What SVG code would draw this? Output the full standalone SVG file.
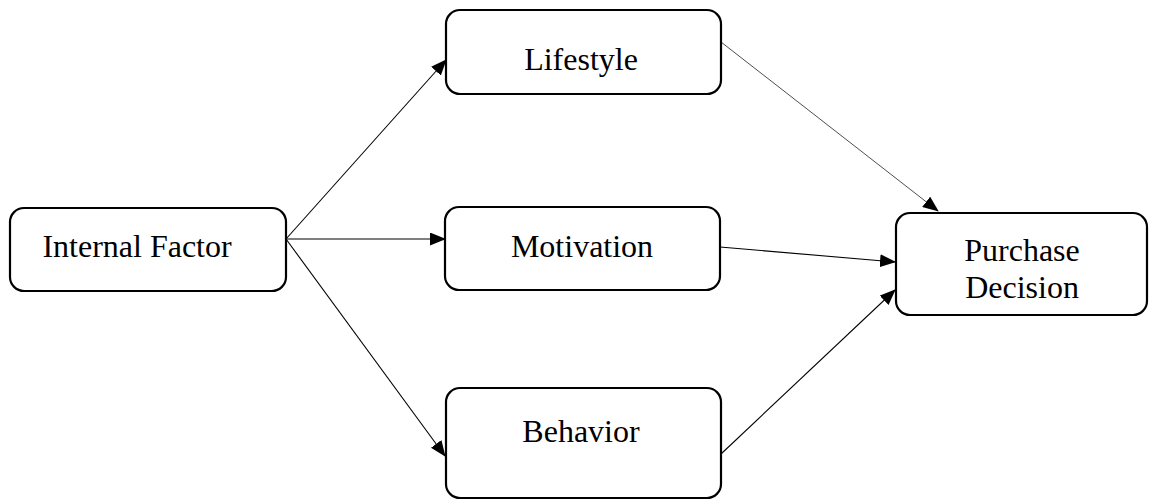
<svg xmlns="http://www.w3.org/2000/svg" width="1149" height="500" viewBox="0 0 1149 500">
<style>
.box{fill:#fff;stroke:#000;stroke-width:2.2}
.t{font-family:"Liberation Serif","Times New Roman",serif;font-size:32px;fill:#000;text-anchor:middle}
.c{stroke:#000;stroke-width:1.1;fill:none;marker-end:url(#ah)}
.thin{stroke-width:0.7}
</style>
<defs>
<marker id="ah" markerUnits="userSpaceOnUse" markerWidth="16" markerHeight="13" refX="15" refY="6.5" orient="auto">
<path d="M0,0 L16,6.5 L0,13 Z" fill="#000"/>
</marker>
</defs>
<rect width="1149" height="500" fill="#fff"/>
<g id="connectors">
<line class="c" x1="286" y1="239" x2="446" y2="60"/>
<line class="c" x1="286" y1="239" x2="445" y2="239"/>
<line class="c" x1="286" y1="239" x2="445" y2="456"/>
<line class="c thin" x1="721" y1="42" x2="938" y2="211"/>
<line class="c" x1="720" y1="247" x2="895" y2="262"/>
<line class="c" x1="721" y1="454" x2="895" y2="290"/>
</g>
<g id="internal-factor">
<rect class="box" x="10" y="208" width="276" height="83" rx="14"/>
<text class="t" x="137" y="257">Internal Factor</text>
</g>
<g id="lifestyle">
<rect class="box" x="446" y="10" width="275" height="84" rx="14"/>
<text class="t" x="581" y="70">Lifestyle</text>
</g>
<g id="motivation">
<rect class="box" x="445" y="207" width="275" height="83" rx="14"/>
<text class="t" x="582" y="257">Motivation</text>
</g>
<g id="behavior">
<rect class="box" x="446" y="388" width="275" height="110" rx="14"/>
<text class="t" x="581" y="442">Behavior</text>
</g>
<g id="purchase-decision">
<rect class="box" x="896" y="213" width="251" height="102" rx="14"/>
<text class="t" x="1022" y="261">Purchase</text>
<text class="t" x="1022" y="298">Decision</text>
</g>
</svg>
